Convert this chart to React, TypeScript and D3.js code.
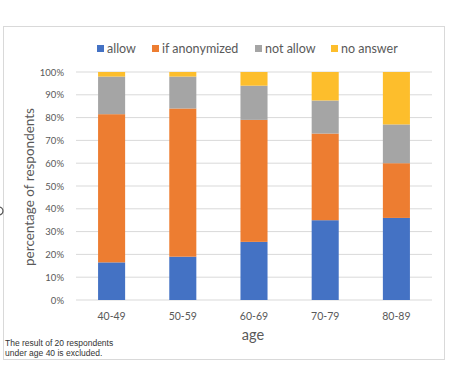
import React from "react";
import * as d3 from "d3";

const categories = ["40-49", "50-59", "60-69", "70-79", "80-89"];
const seriesNames = ["allow", "if anonymized", "not allow", "no answer"];
const allowVals = [16.5, 19, 25.5, 35, 36];
const anonVals = [65, 65, 53.5, 38, 24];
const notAllowVals = [16.5, 14, 15, 14.5, 17];
const noAnswerVals = [2, 2, 6, 12.5, 23];
const yTicks = [0, 10, 20, 30, 40, 50, 60, 70, 80, 90, 100];
const colors = ["#4472C4", "#ED7D31", "#A5A5A5", "#FDBE2C"];

const W = 462;
const H = 365;
const FONT = "Lato, 'Open Sans', sans-serif";

export default function App() {
  const x = d3.scaleBand().domain(categories).range([76, 432]).paddingInner(0.62).paddingOuter(0.31);
  const y = d3.scaleLinear().domain([0, 100]).range([300, 72]);
  const rows = categories.map((c, i) => ({
    cat: c,
    "allow": allowVals[i],
    "if anonymized": anonVals[i],
    "not allow": notAllowVals[i],
    "no answer": noAnswerVals[i],
  }));
  const stack = d3.stack<any>().keys(seriesNames)(rows);
  const legendX = [97, 152, 255, 331];
  return (
    <svg width={W} height={H} style={{ position: "absolute", left: 0, top: 0 }}>
      <rect x={0} y={0} width={W} height={H} fill="#fff" />
      <rect x={3.5} y={26.5} width={441} height={333} fill="#fff" stroke="#D9D9D9" />
      <circle cx={-1} cy={211} r={4} fill="none" stroke="#555" strokeWidth={1.2} />
      {yTicks.map((t) => (
        <g key={t}>
          <line x1={76} x2={432} y1={y(t)} y2={y(t)} stroke="#D9D9D9" strokeWidth={1} />
          <text x={64} y={y(t) + 3.5} textAnchor="end" fontSize={9.5} fill="#595959" fontFamily={FONT}>
            {t}%
          </text>
        </g>
      ))}
      {stack.map((s, si) => (
        <g key={s.key}>
          {s.map((d, i) => (
            <rect
              key={i}
              x={x(categories[i])}
              y={y(d[1])}
              width={x.bandwidth()}
              height={y(d[0]) - y(d[1])}
              fill={colors[si]}
            />
          ))}
        </g>
      ))}
      {categories.map((c) => (
        <text key={c} x={(x(c) as number) + x.bandwidth() / 2} y={319.5} textAnchor="middle" fontSize={10.5} fill="#595959" fontFamily={FONT}>
          {c}
        </text>
      ))}
      {seriesNames.map((n, i) => (
        <g key={n}>
          <rect x={legendX[i]} y={45} width={7} height={7} fill={colors[i]} />
          <text x={legendX[i] + 10} y={53} fontSize={12.5} fill="#595959" fontFamily={FONT}>
            {n}
          </text>
        </g>
      ))}
      <text x={253} y={340} textAnchor="middle" fontSize={14.5} fill="#595959" fontFamily={FONT}>
        age
      </text>
      <text
        transform={`translate(34,187) rotate(-90)`}
        textAnchor="middle"
        fontSize={13.5}
        fill="#595959"
        fontFamily={FONT}
      >
        percentage of respondents
      </text>
      <text x={5} y={346} fontSize={8.5} fill="#333" fontFamily="'Liberation Sans', Arial, sans-serif">
        The result of 20 respondents
      </text>
      <text x={5} y={355.5} fontSize={8.5} fill="#333" fontFamily="'Liberation Sans', Arial, sans-serif">
        under age 40 is excluded.
      </text>
    </svg>
  );
}
